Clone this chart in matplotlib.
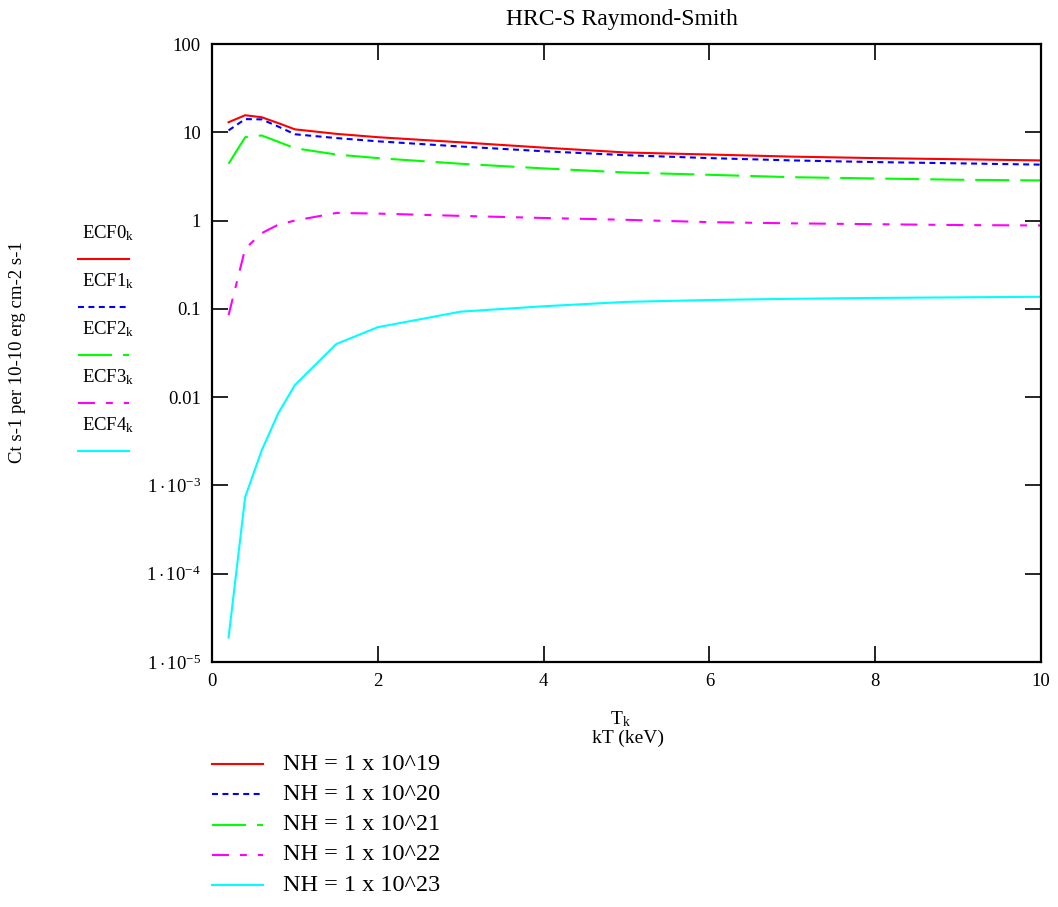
import numpy as np
import matplotlib.pyplot as plt
from matplotlib.lines import Line2D
from matplotlib.ticker import NullLocator

plt.rcParams['font.family'] = 'Liberation Serif'
plt.rcParams['mathtext.fontset'] = 'custom'
plt.rcParams['mathtext.rm'] = 'Liberation Serif'
plt.rcParams['mathtext.it'] = 'Liberation Serif:italic'
plt.rcParams['lines.scale_dashes'] = False

# dane
T = [0.2, 0.4, 0.6, 0.8, 1, 1.5, 2, 3, 4, 5, 6, 7, 8, 9, 10]
ecf0 = [13.0, 15.6, 14.8, 12.7, 10.8, 9.6, 8.8, 7.7, 6.7, 5.9, 5.6, 5.3, 5.1, 4.95, 4.8]
ecf1 = [10.5, 14.1, 14.0, 11.6, 9.5, 8.6, 7.9, 6.9, 6.1, 5.5, 5.1, 4.8, 4.6, 4.45, 4.3]
ecf2 = [4.4, 8.8, 9.2, 7.8, 6.6, 5.6, 5.1, 4.4, 3.9, 3.5, 3.3, 3.1, 3.0, 2.9, 2.85]
ecf3 = [0.085, 0.48, 0.72, 0.9, 1.0, 1.22, 1.2, 1.13, 1.07, 1.02, 0.96, 0.93, 0.91, 0.89, 0.88]
ecf4 = [1.9e-5, 7.4e-4, 2.5e-3, 6.6e-3, 0.0137, 0.040, 0.062, 0.093, 0.107, 0.12, 0.126, 0.13, 0.133, 0.135, 0.137]

series = [ecf0, ecf1, ecf2, ecf3, ecf4]
names = ['ECF0', 'ECF1', 'ECF2', 'ECF3', 'ECF4']
nh_labels = ['NH = 1 x 10^19', 'NH = 1 x 10^20', 'NH = 1 x 10^21',
             'NH = 1 x 10^22', 'NH = 1 x 10^23']

y_ticks = [1e-5, 1e-4, 1e-3, 0.01, 0.1, 1, 10, 100]
y_tick_labels = [r'$1\cdot10^{-5}$', r'$1\cdot10^{-4}$', r'$1\cdot10^{-3}$',
                 '0.01', '0.1', '1', '10', '100']
x_ticks = [0, 2, 4, 6, 8, 10]

colors = ['#ff0000', '#0000ff', '#00ff00', '#ff00ff', '#00ffff']
dashes = [None, (4.3, 3.2), (24.5, 7.9), (12.2, 7.9, 5.0, 7.9), None]

W, H = 1058, 907


def px(x, y):
    return x / W, 1 - y / H


fig = plt.figure(figsize=(W / 100, H / 100), dpi=100)
ax = fig.add_axes([212 / W, 1 - 662 / H, (1041 - 212) / W, (662 - 44) / H])

for s, c, d in zip(series, colors, dashes):
    line, = ax.plot(T, s, color=c, lw=1.5)
    if d is not None:
        line.set_dashes(d)

ax.set_yscale('log')
ax.set_xlim(0, 10)
ax.set_ylim(1e-5, 100)
ax.set_yticks(y_ticks)
ax.set_yticklabels(y_tick_labels)
ax.yaxis.set_minor_locator(NullLocator())
ax.set_xticks(x_ticks)
ax.tick_params(direction='in', length=11.5, width=1.2, top=True, right=True,
               labelsize=13.5, pad=8)
for sp in ax.spines.values():
    sp.set_linewidth(1.6)

fig.text(*px(622, 20), 'HRC-S Raymond-Smith', ha='center', va='center', fontsize=17)
fig.text(*px(18, 352), 'Ct s-1 per 10-10 erg cm-2 s-1', rotation=90,
         ha='center', va='center', fontsize=13.5)
fig.text(*px(620, 719), r'T$_{\mathrm{k}}$', ha='center', va='center', fontsize=14)
fig.text(*px(628, 738), 'kT (keV)', ha='center', va='center', fontsize=14)

# legenda po lewej
for i, (n, c, d) in enumerate(zip(names, colors, dashes)):
    yt = 233 + 48 * i
    yl = 259 + 48 * i
    fig.text(*px(82, yt), n + r'$_{\mathrm{k}}$', ha='left', va='center', fontsize=13.5)
    ln = Line2D([78 / W, 129 / W], [1 - yl / H, 1 - yl / H], color=c, lw=1.5,
                transform=fig.transFigure)
    if d is not None:
        ln.set_dashes(d)
    fig.add_artist(ln)

# legenda na dole
for i, (lab, c, d) in enumerate(zip(nh_labels, colors, dashes)):
    yl = 764 + 30.3 * i
    ln = Line2D([212 / W, 263 / W], [1 - yl / H, 1 - yl / H], color=c, lw=1.5,
                transform=fig.transFigure)
    if d is not None:
        ln.set_dashes(d)
    fig.add_artist(ln)
    fig.text(*px(283, yl), lab, ha='left', va='center', fontsize=17.5)

fig.savefig('out.png', dpi=100)
